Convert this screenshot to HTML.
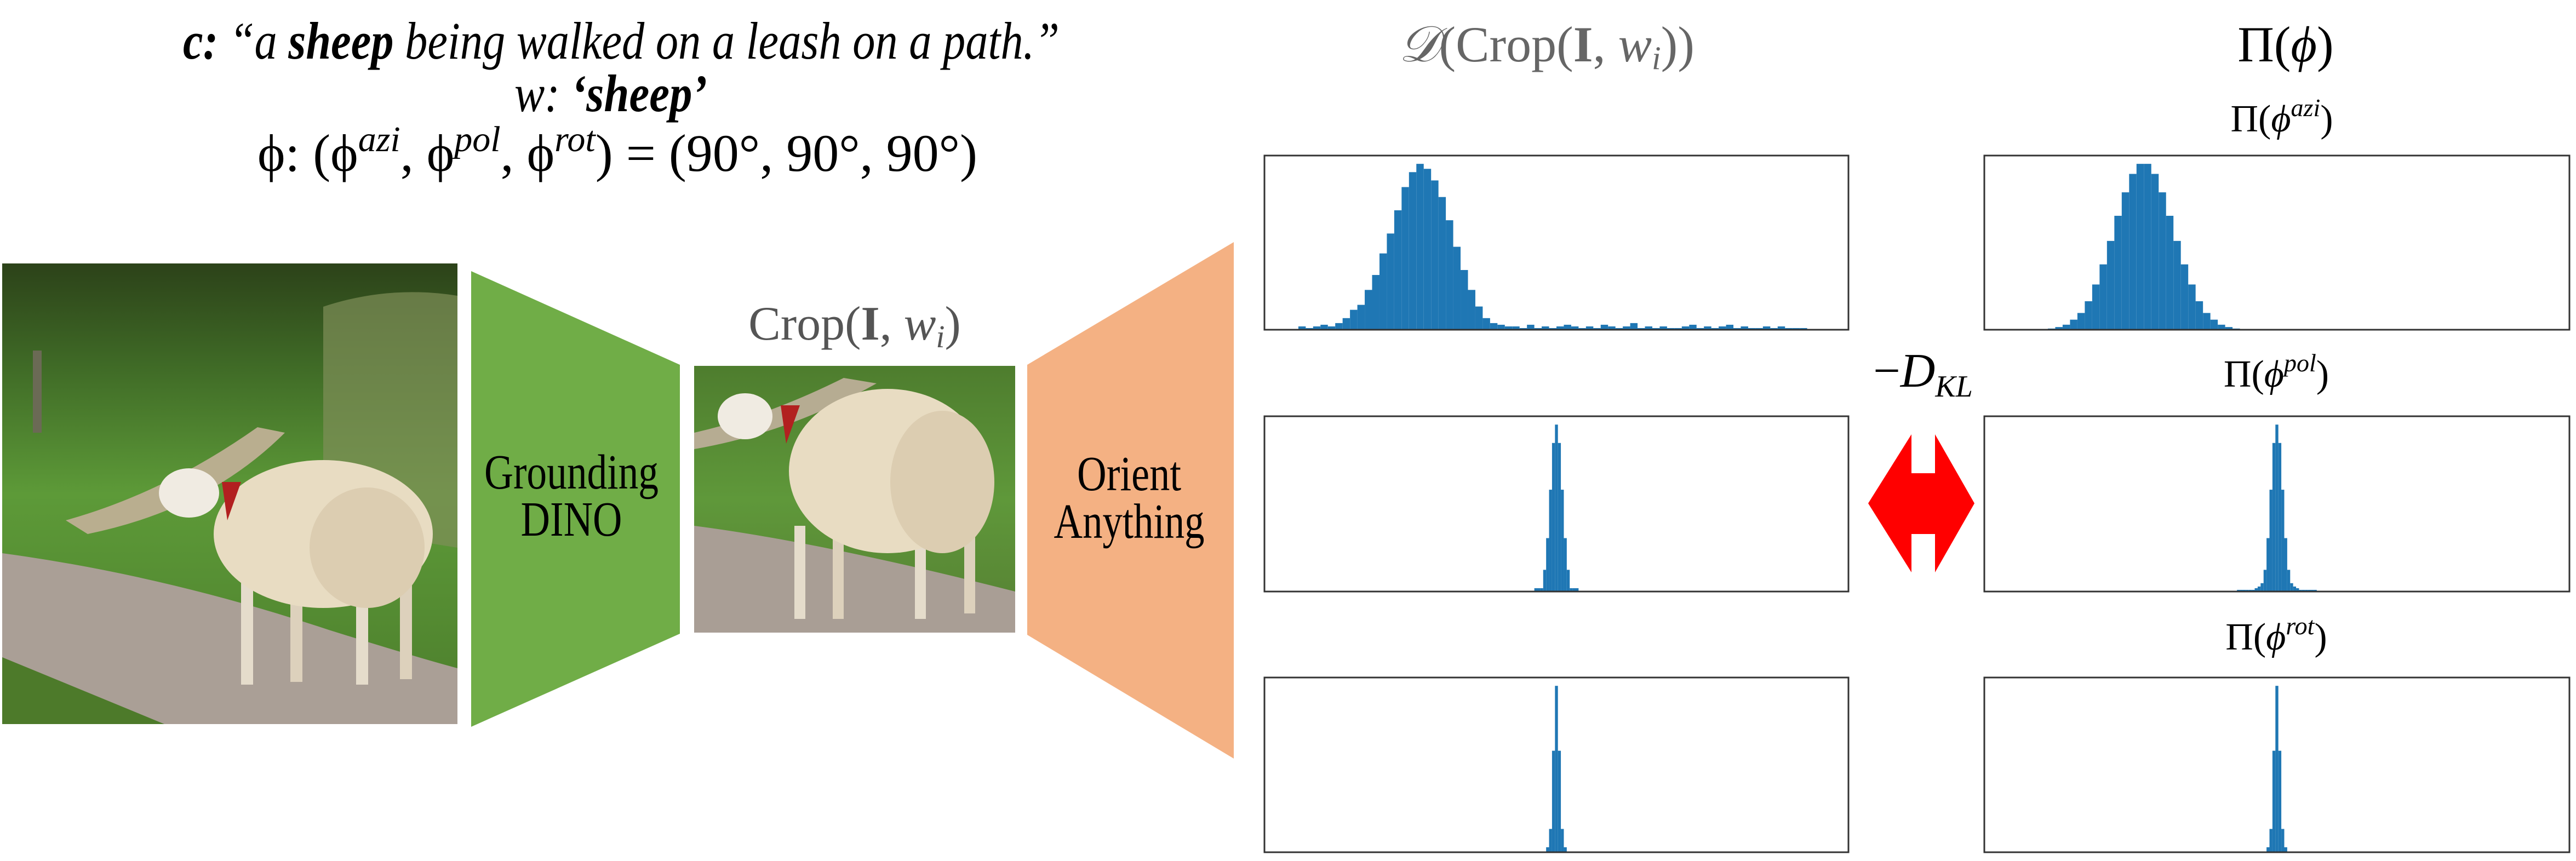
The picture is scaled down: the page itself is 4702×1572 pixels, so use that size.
<!DOCTYPE html>
<html><head><meta charset="utf-8"><style>
html,body{margin:0;padding:0;background:#fff;}
svg{display:block;}
text{font-family:"Liberation Serif",serif;}
</style></head><body>
<svg id="fig" width="4702" height="1572" viewBox="0 0 4702 1572" xmlns="http://www.w3.org/2000/svg">
<defs>
<linearGradient id="bg1" x1="0" y1="0" x2="0" y2="1">
<stop offset="0" stop-color="#2c4219"/><stop offset="0.22" stop-color="#3f6a26"/><stop offset="0.5" stop-color="#5d9a38"/><stop offset="1" stop-color="#4c7d2c"/>
</linearGradient>
<linearGradient id="bg2" x1="0" y1="0" x2="0" y2="1">
<stop offset="0" stop-color="#4e7d2e"/><stop offset="0.5" stop-color="#5f983a"/><stop offset="1" stop-color="#567f33"/>
</linearGradient>
</defs>

<g>
<text x="1134" y="107" text-anchor="middle" font-size="96" font-style="italic" textLength="1600" lengthAdjust="spacingAndGlyphs"><tspan font-weight="bold">c:</tspan> “a <tspan font-weight="bold">sheep</tspan> being walked on a leash on a path.”</text>
<text x="1115" y="203" text-anchor="middle" font-size="96" font-style="italic" textLength="352" lengthAdjust="spacingAndGlyphs">w: <tspan font-weight="bold">‘sheep’</tspan></text>
<text x="470" y="312" font-size="96" font-family="'DejaVu Sans',sans-serif">ϕ: (ϕ<tspan font-size="66" dy="-36" font-style="italic">azi</tspan><tspan dy="36">, ϕ</tspan><tspan font-size="66" dy="-36" font-style="italic">pol</tspan><tspan dy="36">, ϕ</tspan><tspan font-size="66" dy="-36" font-style="italic">rot</tspan><tspan dy="36">) = (90°, 90°, 90°)</tspan></text>
</g>

<g>
<rect x="4" y="481" width="831" height="841" fill="url(#bg1)"/>
<rect x="60" y="640" width="16" height="150" fill="#6b6a55"/>
<path d="M590 560 Q710 520 835 540 L835 1000 Q710 980 590 960 Z" fill="#7f8f58" opacity="0.7"/>
<path d="M120 950 Q300 900 470 780 L520 790 Q380 930 160 975 Z" fill="#b9ae8f"/>
<path d="M4 1010 Q300 1050 600 1150 Q760 1200 835 1220 L835 1322 L4 1322 Z" fill="#aa9f96"/>
<path d="M4 1200 Q150 1260 300 1322 L4 1322 Z" fill="#4d7a2a"/>
<g>
<rect x="440" y="1050" width="22" height="200" fill="#e5dccb"/>
<rect x="530" y="1060" width="22" height="185" fill="#ddd1bc"/>
<rect x="650" y="1050" width="22" height="200" fill="#e5dccb"/>
<rect x="730" y="1040" width="22" height="200" fill="#ddd1bc"/>
<ellipse cx="590" cy="975" rx="200" ry="135" fill="#e8dcc2"/>
<ellipse cx="670" cy="1000" rx="105" ry="110" fill="#dccdb1"/>
<ellipse cx="345" cy="900" rx="55" ry="45" fill="#f0ebe2"/>
<path d="M405 880 L440 880 L415 950 Z" fill="#b22020"/>
</g>
</g>

<polygon points="860,495 1241,666 1241,1157 860,1327" fill="#70ad47"/>
<text x="1043" y="892" text-anchor="middle" font-size="90" textLength="318" lengthAdjust="spacingAndGlyphs">Grounding</text>
<text x="1043" y="978" text-anchor="middle" font-size="90" textLength="185" lengthAdjust="spacingAndGlyphs">DINO</text>

<text x="1560" y="620" text-anchor="middle" font-size="88" fill="#555">Crop(<tspan font-weight="bold">I</tspan>, <tspan font-style="italic">w</tspan><tspan font-style="italic" font-size="58" dy="14">i</tspan><tspan dy="-14">)</tspan></text>
<g>
<rect x="1267" y="668" width="586" height="487" fill="url(#bg2)"/>
<path d="M1267 790 Q1400 760 1540 690 L1600 700 Q1440 790 1267 820 Z" fill="#b6ac92"/>
<path d="M1267 960 Q1500 990 1853 1080 L1853 1155 L1267 1155 Z" fill="#a99e95"/>
<rect x="1450" y="960" width="20" height="170" fill="#e5dccb"/>
<rect x="1520" y="980" width="20" height="150" fill="#ddd1bc"/>
<rect x="1670" y="960" width="20" height="170" fill="#e5dccb"/>
<rect x="1760" y="950" width="20" height="170" fill="#ddd1bc"/>
<ellipse cx="1620" cy="860" rx="180" ry="150" fill="#e8dcc2"/>
<ellipse cx="1720" cy="880" rx="95" ry="130" fill="#dccdb1"/>
<ellipse cx="1360" cy="760" rx="50" ry="42" fill="#f0ebe2"/>
<path d="M1425 740 L1460 740 L1435 810 Z" fill="#b22020"/>
</g>

<polygon points="1875,666 2252,442 2252,1385 1875,1159" fill="#f4b183"/>
<text x="2061" y="895" text-anchor="middle" font-size="90" textLength="190" lengthAdjust="spacingAndGlyphs">Orient</text>
<text x="2061" y="982" text-anchor="middle" font-size="90" textLength="275" lengthAdjust="spacingAndGlyphs">Anything</text>

<text x="2823" y="112" text-anchor="middle" font-size="92" fill="#666"><tspan font-style="italic" font-family="'Liberation Sans',sans-serif">𝒟</tspan>(Crop(<tspan font-weight="bold">I</tspan>, <tspan font-style="italic">w</tspan><tspan font-style="italic" font-size="60" dy="14">i</tspan><tspan dy="-14">))</tspan></text>
<text x="4172" y="112" text-anchor="middle" font-size="92">Π(<tspan font-style="italic">ϕ</tspan>)</text>
<text x="4165" y="240" text-anchor="middle" font-size="70">Π(<tspan font-style="italic">ϕ</tspan><tspan font-style="italic" font-size="46" dy="-28">azi</tspan><tspan dy="28">)</tspan></text>
<text x="4155" y="706" text-anchor="middle" font-size="70">Π(<tspan font-style="italic">ϕ</tspan><tspan font-style="italic" font-size="46" dy="-28">pol</tspan><tspan dy="28">)</tspan></text>
<text x="4155" y="1186" text-anchor="middle" font-size="70">Π(<tspan font-style="italic">ϕ</tspan><tspan font-style="italic" font-size="46" dy="-28">rot</tspan><tspan dy="28">)</tspan></text>
<text x="3510" y="706" text-anchor="middle" font-size="88">−<tspan font-style="italic">D</tspan><tspan font-style="italic" font-size="56" dy="18">KL</tspan></text>

<polygon points="3410,919 3489,793 3489,864 3532,864 3532,793 3604,919 3532,1045 3532,975 3489,975 3489,1045" fill="#ff0000"/>

<g id="charts"></g>
</svg>
<script>
// --- data ---
const aziBinWidth = 5;
const aziPredVals = [0,0.02,0.01,0.02,0.03,0.02,0.04,0.07,0.12,0.15,0.24,0.33,0.46,0.58,0.72,0.86,0.95,1.0,0.97,0.9,0.8,0.66,0.5,0.36,0.24,0.14,0.07,0.04,0.03,0.02,
 0.02,0.01,0.03,0.01,0.02,0.01,0.02,0.03,0.02,0.01,0.02,0.01,0.03,0.02,0.01,0.02,0.04,0.01,0.02,0.01,0.02,0.01,0.01,0.02,0.03,0.01,0.02,0.01,0.02,0.03,0.01,0.02,0.01,0.01,0.02,0.01,0.02,0.01,0.01,0.01,0,0];
const aziPriorVals = [0,0,0,0,0,0.007,0.016,0.03,0.06,0.10,0.17,0.27,0.39,0.53,0.68,0.82,0.93,0.99,0.99,0.93,0.82,0.68,0.53,0.39,0.27,0.17,0.10,0.06,0.03,0.016,0.007,
 0,0,0,0,0,0,0,0,0,0,0,0,0,0,0,0,0,0,0,0,0,0,0,0,0,0,0,0,0,0,0,0,0,0,0,0,0,0,0,0,0];
const polStart = 83;
const polPredVals = [0.02,0.02,0.02,0.13,0.32,0.61,0.89,1.0,0.89,0.61,0.32,0.13,0.02,0.02,0.02];
const polPriorStart = 77;
const polPriorVals = [0.01,0.01,0.01,0.01,0.01,0.01,0.02,0.03,0.05,0.13,0.32,0.61,0.89,1.0,0.89,0.61,0.32,0.13,0.05,0.03,0.02,0.01,0.01,0.01,0.01,0.01,0.01];
const rotStart = 87;
const rotPredVals = [0.03,0.14,0.61,1.0,0.61,0.14,0.03];
const rotPriorVals = [0.03,0.14,0.61,1.0,0.61,0.14,0.03];
const aziRange = [0, 360];
const polRange = [0, 180];

const NS = "http://www.w3.org/2000/svg";
const charts = document.getElementById('charts');
function panel(name, bx, by, bw, bh, range, start, width, vals) {
  const g = document.createElementNS(NS, 'g');
  
  
  const span = range[1] - range[0];
  const x0 = range[0] - 0.05 * span, x1 = range[1] + 0.05 * span;
  const maxV = Math.max(...vals);
  const xs = v => bx + (v - x0) / (x1 - x0) * bw;
  const ys = v => by + bh - v / (maxV * 1.05) * bh;
  vals.forEach((v, i) => {
    if (v <= 0) return;
    const a = start + i * width, b = a + width;
    const r = document.createElementNS(NS, 'rect');
    
    
    r.setAttribute('x', xs(a));
    r.setAttribute('width', Math.max(xs(b) - xs(a), 1));
    r.setAttribute('y', ys(v));
    r.setAttribute('height', by + bh - ys(v));
    r.setAttribute('fill', '#1f77b4');
    g.appendChild(r);
  });
  const f = document.createElementNS(NS, 'rect');
  
  
  f.setAttribute('x', bx); f.setAttribute('y', by);
  f.setAttribute('width', bw); f.setAttribute('height', bh);
  f.setAttribute('fill', 'none'); f.setAttribute('stroke', '#333'); f.setAttribute('stroke-width', '3');
  g.appendChild(f);
  charts.appendChild(g);
}
panel('pred-azi-hist', 2308, 284, 1066, 318, aziRange, 0, aziBinWidth, aziPredVals);
panel('prior-azi-hist', 3622, 284, 1068, 318, aziRange, 0, aziBinWidth, aziPriorVals);
panel('pred-pol-hist', 2308, 760, 1066, 320, polRange, polStart - 0.5, 1, polPredVals);
panel('prior-pol-hist', 3622, 760, 1068, 320, polRange, polPriorStart - 0.5, 1, polPriorVals);
panel('pred-rot-hist', 2308, 1237, 1066, 319, polRange, rotStart - 0.5, 1, rotPredVals);
panel('prior-rot-hist', 3622, 1237, 1068, 319, polRange, rotStart - 0.5, 1, rotPriorVals);
</script>
</body></html>
